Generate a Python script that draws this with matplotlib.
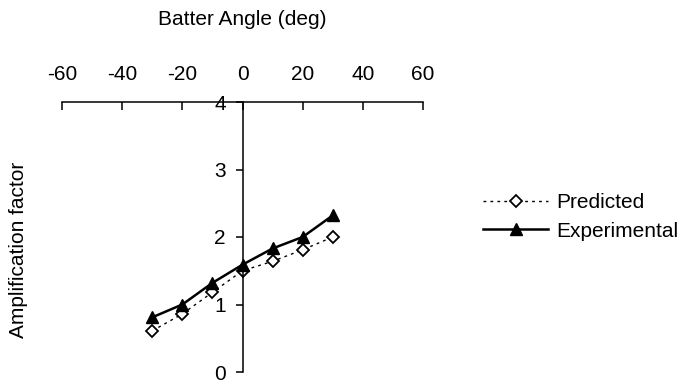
import matplotlib.pyplot as plt

plt.rcParams['font.family'] = ['Liberation Sans', 'DejaVu Sans']
plt.rcParams['axes.unicode_minus'] = False

## batter angle vs amplification factor
angle = [-30, -20, -10, 0, 10, 20, 30]
predicted = [0.61, 0.86, 1.18, 1.50, 1.64, 1.81, 2.00]
experimental = [0.81, 1.00, 1.32, 1.59, 1.83, 2.00, 2.32]

xticks = [-60, -40, -20, 0, 20, 40, 60]
yticks = [0, 1, 2, 3, 4]

fs = 15

fig = plt.figure(figsize=(6.95, 3.86), dpi=100)
ax = fig.add_axes([62/695, 14/386, 361/695, 270/386])

ax.plot(angle, predicted, color='black', linestyle=(0, (2, 3)), linewidth=1,
        marker='D', markersize=6, markerfacecolor='white', markeredgecolor='black',
        markeredgewidth=1.3, label='Predicted', clip_on=False)
ax.plot(angle, experimental, color='black', linestyle='-', linewidth=1.8,
        marker='^', markersize=8.5, label='Experimental', clip_on=False)

ax.set_xlim(-60, 60)
ax.set_ylim(0, 4)
ax.set_xticks(xticks)
ax.set_yticks(yticks)

# horizontal axis on top, vertical axis through zero
ax.spines['right'].set_visible(False)
ax.spines['bottom'].set_visible(False)
ax.spines['left'].set_position(('data', 0))
for s in ('top', 'left'):
    ax.spines[s].set_linewidth(1.1)
ax.xaxis.set_ticks_position('top')
ax.xaxis.set_label_position('top')
ax.tick_params(axis='x', direction='in', length=6, width=1.1, pad=13, labelsize=fs)
ax.tick_params(axis='y', direction='out', length=5, width=1.1, pad=7, labelsize=fs)

ax.set_xlabel('Batter Angle (deg)', fontsize=fs, labelpad=29)
fig.text(19/695, 1 - 250/386, 'Amplification factor', rotation=90, fontsize=fs,
         ha='center', va='center')

fig.legend(loc='center left', bbox_to_anchor=(475/695, 1 - 217/386), frameon=False,
           fontsize=fs, handlelength=3.1, handletextpad=0.4, labelspacing=0.44,
           borderaxespad=0)

fig.savefig('out.png', dpi=100)
